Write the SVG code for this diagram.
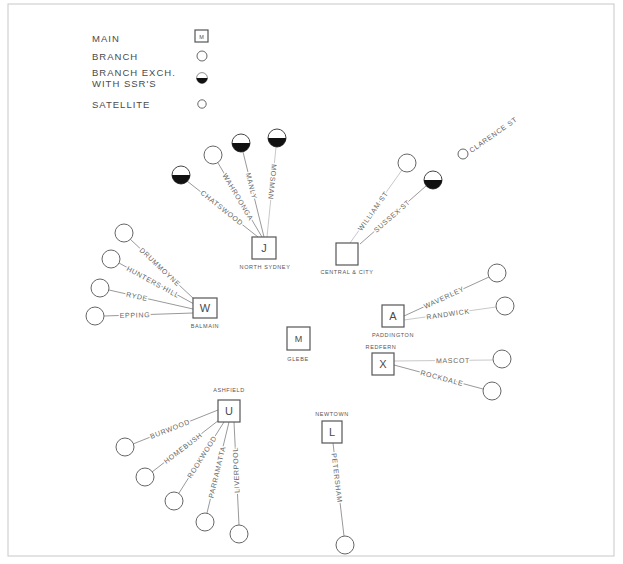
<svg xmlns="http://www.w3.org/2000/svg" xmlns:xlink="http://www.w3.org/1999/xlink" width="623" height="564" viewBox="0 0 623 564">
<style>
text{font-family:"Liberation Sans",Arial,sans-serif;fill:#4a4a4a}
.leg{font-size:9.5px;letter-spacing:1px}
.lbl{font-size:7px;letter-spacing:0.7px;text-anchor:middle;fill:#666;paint-order:stroke;stroke:#fff;stroke-width:3px;stroke-linejoin:round}
.nl{font-size:5.5px;letter-spacing:0.6px;text-anchor:middle;fill:#555}
.big{font-size:11px;text-anchor:middle}
.box{fill:#fff;stroke:#555;stroke-width:1.2}
.br{fill:#fff;stroke:#666;stroke-width:1}
.ln{stroke:#777;stroke-width:0.75;fill:none}
.fd{stroke:#b0b0b0;stroke-width:0.7;fill:none}
</style>
<defs>
<g id="half"><circle r="9" fill="#fff" stroke="#444" stroke-width="1"/><path d="M-9,0 A9,9 0 0 0 9,0 Z" fill="#111"/><path d="M-9,1 L9,1" stroke="#111" stroke-width="1"/></g>
</defs>
<rect x="8" y="4" width="606" height="552" fill="#fff" stroke="#c8c8c8" stroke-width="1"/>

<g id="legend">
<text class="leg" x="92" y="42">MAIN</text>
<rect class="box" x="195" y="30" width="13" height="12"/>
<text x="201.5" y="38.5" style="font-size:5.5px;text-anchor:middle">M</text>
<text class="leg" x="92" y="60">BRANCH</text>
<circle class="br" cx="202" cy="56" r="5"/>
<text class="leg" x="92" y="76">BRANCH EXCH.</text>
<text class="leg" x="92" y="87">WITH SSR'S</text>
<use href="#half" transform="translate(202,78) scale(0.6)"/>
<text class="leg" x="92" y="108">SATELLITE</text>
<circle class="br" cx="202" cy="104" r="4.2"/>
</g>

<g id="connectors">
<line class="ln" x1="187" y1="181" x2="258" y2="237"/>
<line class="ln" x1="218" y1="163" x2="262" y2="237"/>
<line class="ln" x1="243" y1="152" x2="264" y2="237"/>
<line class="fd" x1="276" y1="147" x2="267" y2="237"/>
<line class="fd" x1="350" y1="243" x2="402" y2="170"/>
<line class="ln" x1="426" y1="186" x2="360" y2="244"/>
<line class="ln" x1="130" y1="239" x2="194" y2="299"/>
<line class="ln" x1="119" y1="263" x2="194" y2="304"/>
<line class="ln" x1="109" y1="290" x2="193" y2="309"/>
<line class="ln" x1="104" y1="316" x2="193" y2="313"/>
<line class="ln" x1="404" y1="316" x2="489" y2="277"/>
<line class="fd" x1="404" y1="320" x2="496" y2="307"/>
<line class="fd" x1="394" y1="361" x2="493" y2="360"/>
<line class="ln" x1="394" y1="365" x2="483" y2="389"/>
<line class="ln" x1="133" y1="444" x2="218" y2="410"/>
<line class="ln" x1="152" y1="472" x2="219" y2="420"/>
<line class="ln" x1="179" y1="493" x2="224" y2="422"/>
<line class="ln" x1="207" y1="513" x2="229" y2="422"/>
<line class="ln" x1="239" y1="525" x2="234" y2="422"/>
<line class="ln" x1="333" y1="443" x2="344" y2="536"/>
</g>

<g id="labels">
<text class="lbl" transform="translate(222,208) rotate(38.3)" dy="2.5">CHATSWOOD</text>
<text class="lbl" transform="translate(238,197) rotate(59.3)" dy="2.5">WAHROONGA</text>
<text class="lbl" transform="translate(251.4,186) rotate(76.1)" dy="2.5">MANLY</text>
<text class="lbl" transform="translate(272.5,182) rotate(95.7)" dy="2.5">MOSMAN</text>
<text class="lbl" transform="translate(373,211) rotate(-54.5)" dy="2.5">WILLIAM ST</text>
<text class="lbl" transform="translate(392,216) rotate(-41.2)" dy="2.5">SUSSEX ST</text>
<text class="lbl" style="text-anchor:start" transform="translate(470,151) rotate(-35)" dy="2.5">CLARENCE ST</text>
<text class="lbl" transform="translate(160,267) rotate(43.3)" dy="2.5">DRUMMOYNE</text>
<text class="lbl" transform="translate(153,282) rotate(28.5)" dy="2.5">HUNTERS HILL</text>
<text class="lbl" transform="translate(137,296.4) rotate(12.7)" dy="2.5">RYDE</text>
<text class="lbl" transform="translate(135,315) rotate(-1.75)" dy="2.5">EPPING</text>
<text class="lbl" transform="translate(444,297.5) rotate(-24.8)" dy="2.5">WAVERLEY</text>
<text class="lbl" transform="translate(448,314) rotate(-7.9)" dy="2.5">RANDWICK</text>
<text class="lbl" transform="translate(453,360.5) rotate(-0.5)" dy="2.5">MASCOT</text>
<text class="lbl" transform="translate(442,378) rotate(15.1)" dy="2.5">ROCKDALE</text>
<text class="lbl" transform="translate(170,429) rotate(-21.7)" dy="2.5">BURWOOD</text>
<text class="lbl" transform="translate(183,448) rotate(-37.6)" dy="2.5">HOMEBUSH</text>
<text class="lbl" transform="translate(202,456.8) rotate(-57.7)" dy="2.5">ROOKWOOD</text>
<text class="lbl" transform="translate(217,472) rotate(-76.5)" dy="2.5">PARRAMATTA</text>
<text class="lbl" transform="translate(236,470) rotate(-92.6)" dy="2.5">LIVERPOOL</text>
<text class="lbl" transform="translate(337,478) rotate(83.3)" dy="2.5">PETERSHAM</text>
</g>

<g id="sat-chatswood"><use href="#half" x="181" y="175"/></g>
<g id="sat-wahroonga"><circle class="br" cx="213" cy="155" r="9"/></g>
<g id="sat-manly"><use href="#half" x="241" y="143"/></g>
<g id="sat-mosman"><use href="#half" x="277" y="138"/></g>
<g id="sat-william"><circle class="br" cx="407" cy="163" r="9"/></g>
<g id="sat-sussex"><use href="#half" x="433" y="180"/></g>
<g id="sat-clarence"><circle class="br" cx="463" cy="154" r="5"/></g>
<g id="sat-drummoyne"><circle class="br" cx="124" cy="233" r="9"/></g>
<g id="sat-huntershill"><circle class="br" cx="111" cy="259" r="9"/></g>
<g id="sat-ryde"><circle class="br" cx="100" cy="288" r="9"/></g>
<g id="sat-epping"><circle class="br" cx="95" cy="316" r="9"/></g>
<g id="sat-waverley"><circle class="br" cx="497" cy="273" r="9"/></g>
<g id="sat-randwick"><circle class="br" cx="505" cy="306" r="9"/></g>
<g id="sat-mascot"><circle class="br" cx="502" cy="359" r="9"/></g>
<g id="sat-rockdale"><circle class="br" cx="492" cy="391" r="9"/></g>
<g id="sat-burwood"><circle class="br" cx="125" cy="447" r="9"/></g>
<g id="sat-homebush"><circle class="br" cx="145" cy="477" r="9"/></g>
<g id="sat-rookwood"><circle class="br" cx="174" cy="501" r="9"/></g>
<g id="sat-parramatta"><circle class="br" cx="205" cy="522" r="9"/></g>
<g id="sat-liverpool"><circle class="br" cx="239" cy="534" r="9"/></g>
<g id="sat-petersham"><circle class="br" cx="345" cy="545" r="9"/></g>

<g id="node-J"><rect class="box" x="252" y="237" width="24" height="22"/><text class="big" x="264" y="252">J</text><text class="nl" x="265" y="269">NORTH SYDNEY</text></g>
<g id="node-central"><rect class="box" x="336" y="243" width="22" height="22"/><text class="nl" x="347" y="274">CENTRAL &amp; CITY</text></g>
<g id="node-W"><rect class="box" x="193" y="298" width="24" height="20"/><text class="big" x="205" y="312">W</text><text class="nl" x="205" y="328">BALMAIN</text></g>
<g id="node-A"><rect class="box" x="382" y="305" width="22" height="22"/><text class="big" x="393" y="320">A</text><text class="nl" x="393" y="337">PADDINGTON</text></g>
<g id="node-M"><rect class="box" x="287" y="327" width="23" height="23"/><text class="big" x="298.5" y="342" style="font-size:9px">M</text><text class="nl" x="298" y="361">GLEBE</text></g>
<g id="node-X"><rect class="box" x="372" y="353" width="22" height="22"/><text class="big" x="383" y="368">X</text><text class="nl" x="381" y="349">REDFERN</text></g>
<g id="node-U"><rect class="box" x="218" y="400" width="22" height="22"/><text class="big" x="229" y="415">U</text><text class="nl" x="229" y="392">ASHFIELD</text></g>
<g id="node-L"><rect class="box" x="322" y="421" width="20" height="22"/><text class="big" x="332" y="436">L</text><text class="nl" x="332" y="416">NEWTOWN</text></g>
</svg>
